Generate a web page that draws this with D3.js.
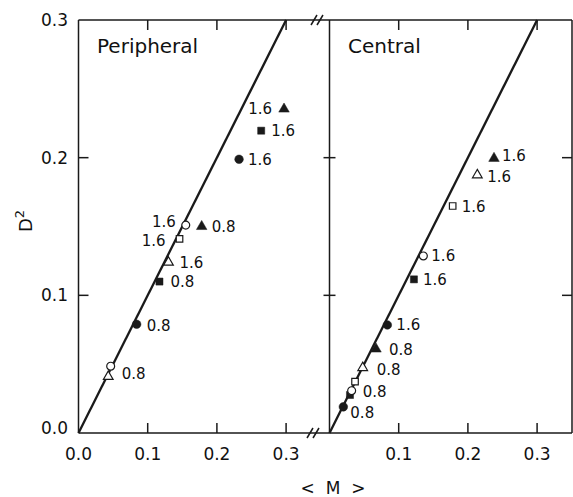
<!DOCTYPE html>
<html>
<head>
<meta charset="utf-8">
<script src="https://cdn.jsdelivr.net/npm/d3@7"></script>
<style>
  body { margin: 0; background: #fff; }
  svg { display: block; }
  text { font-family: "DejaVu Sans", sans-serif; fill: #111; }
</style>
</head>
<body>
<svg width="573" height="497"></svg>
<script>
// peripheral panel
const periphM     = [0.043, 0.0465, 0.084, 0.117, 0.130, 0.146, 0.155, 0.178, 0.297, 0.264, 0.232];
const periphD2    = [0.041, 0.0485, 0.079, 0.110, 0.124, 0.141, 0.151, 0.150, 0.2353, 0.2196, 0.1988];
const periphShape = ['ot', 'oc', 'fc', 'fs', 'ot', 'os', 'oc', 'ft', 'ft', 'fs', 'fc'];
const periphLabel = ['', '0.8', '0.8', '0.8', '1.6', '1.6', '1.6', '0.8', '1.6', '1.6', '1.6'];

// central panel
const centralM     = [0.020, 0.0296, 0.032, 0.0369, 0.048, 0.0672, 0.0836, 0.122, 0.1356, 0.178, 0.2136, 0.2377];
const centralD2    = [0.019, 0.0276, 0.0307, 0.0373, 0.0474, 0.061, 0.0785, 0.1116, 0.1286, 0.1649, 0.1874, 0.1995];
const centralShape = ['fc', 'fs', 'oc', 'os', 'ot', 'ft', 'fc', 'fs', 'oc', 'os', 'ot', 'ft'];
const centralLabel = ['0.8', '', '0.8', '', '0.8', '0.8', '1.6', '1.6', '1.6', '1.6', '1.6', '1.6'];

const xTicks = [0, 0.1, 0.2, 0.3];
const yTicks = [0, 0.1, 0.2, 0.3];
const fitLine = [0, 0.3];   // D^2 = <M>

// label placement (layout only): [dx, dy, anchor]
const periphPos = [[0,0,'start'],[11,7,'start'],[10,1,'start'],[11,0,'start'],[11,0,'start'],
  [-14,2,'end'],[-10,-4,'end'],[10,0,'start'],[-12,0,'end'],[10,0,'start'],[9,0,'start']];
const centralPos = [[7,6,'start'],[0,0,'start'],[11,1,'start'],[0,0,'start'],[14,2,'start'],
  [13,1,'start'],[9,0,'start'],[9,0,'start'],[8,0,'start'],[9,1,'start'],[10,2,'start'],[8,-3,'start']];

const svg = d3.select('svg');
const yTop = 20, yBot = 433, xLeft = 78.5, xMid = 329.5, xRight = 572;

const y = d3.scaleLinear().domain([0, 0.3]).range([yBot, yTop]);
const xL = d3.scaleLinear().domain([0, 0.3]).range([xLeft, xLeft + 207.6]);
const xR = d3.scaleLinear().domain([0, 0.3]).range([xMid, xMid + 207.6]);

const ink = '#1a1a1a';

// frame
const frame = svg.append('g').attr('fill', 'none').attr('stroke', ink).attr('stroke-width', 1.5);
frame.append('line').attr('x1', xLeft).attr('x2', xRight).attr('y1', yTop).attr('y2', yTop);
frame.append('line').attr('x1', xLeft).attr('x2', xRight).attr('y1', yBot).attr('y2', yBot);
frame.append('line').attr('x1', xLeft).attr('x2', xLeft).attr('y1', yTop).attr('y2', yBot);
frame.append('line').attr('x1', xRight).attr('x2', xRight).attr('y1', yTop).attr('y2', yBot);
frame.append('line').attr('x1', xMid).attr('x2', xMid).attr('y1', yTop).attr('y2', yBot);

// break marks
[[313, yBot], [317, yTop]].forEach(([bx, by]) => {
  [-3, 3].forEach(o => {
    frame.append('line')
      .attr('x1', bx + o - 3).attr('y1', by + 5)
      .attr('x2', bx + o + 3).attr('y2', by - 5);
  });
});

const tl = 10;
// x ticks on both panels, bottom (up) and top (down)
[xL, xR].forEach((xs, p) => {
  xTicks.forEach(t => {
    if (t === 0) return;
    frame.append('line').attr('x1', xs(t)).attr('x2', xs(t)).attr('y1', yBot).attr('y2', yBot - tl);
    frame.append('line').attr('x1', xs(t)).attr('x2', xs(t)).attr('y1', yTop).attr('y2', yTop + tl);
  });
  svg.append('g').selectAll('text')
    .data(p === 0 ? xTicks : xTicks.slice(1))
    .join('text')
    .attr('x', d => xs(d))
    .attr('y', 460)
    .attr('text-anchor', 'middle')
    .attr('font-size', 17)
    .text(d => d3.format('.1f')(d));
});

// y ticks: left (in), mid (both sides), right (in)
yTicks.forEach(t => {
  if (t === 0 || t === 0.3) return;
  frame.append('line').attr('x1', xLeft).attr('x2', xLeft + tl).attr('y1', y(t)).attr('y2', y(t));
  frame.append('line').attr('x1', xMid - 6).attr('x2', xMid + 6).attr('y1', y(t)).attr('y2', y(t));
  frame.append('line').attr('x1', xRight).attr('x2', xRight - tl).attr('y1', y(t)).attr('y2', y(t));
});
svg.append('g').selectAll('text')
  .data(yTicks)
  .join('text')
  .attr('x', 68)
  .attr('y', d => y(d) - (d === 0 ? 5 : 0))
  .attr('dy', '0.35em')
  .attr('text-anchor', 'end')
  .attr('font-size', 17)
  .text(d => d3.format('.1f')(d));

// axis titles
const yt = svg.append('text')
  .attr('transform', 'translate(32,221) rotate(-90)')
  .attr('text-anchor', 'middle')
  .attr('font-size', 18);
yt.append('tspan').text('D');
yt.append('tspan').attr('font-size', 13).attr('dy', -8).text('2');

svg.append('text')
  .attr('x', 333).attr('y', 494)
  .attr('text-anchor', 'middle')
  .attr('font-size', 17)
  .attr('xml:space', 'preserve')
  .text('<  M  >');

svg.append('text').attr('x', 97).attr('y', 53).attr('font-size', 20).text('Peripheral');
svg.append('text').attr('x', 348).attr('y', 53).attr('font-size', 20).text('Central');

// markers
const symType = { c: d3.symbolCircle, s: d3.symbolSquare, t: d3.symbolTriangle };
const symSize = { c: 58, s: 50, t: 48 };

function panel(xs, ms, ds, shapes, labels, pos) {
  const g = svg.append('g');
  g.append('line')
    .attr('x1', xs(fitLine[0])).attr('y1', y(fitLine[0]))
    .attr('x2', xs(fitLine[1])).attr('y2', y(fitLine[1]))
    .attr('stroke', ink).attr('stroke-width', 2.3);

  const pts = ms.map((m, i) => ({ m, d: ds[i], shape: shapes[i], label: labels[i], pos: pos[i] }));

  g.selectAll('path.pt')
    .data(pts)
    .join('path')
    .attr('class', 'pt')
    .attr('transform', d => `translate(${xs(d.m)},${y(d.d)})`)
    .attr('d', d => d3.symbol(symType[d.shape[1]], d.shape[0] === 'o' ? symSize[d.shape[1]] * 0.85 : symSize[d.shape[1]])())
    .attr('fill', d => d.shape[0] === 'f' ? ink : '#fff')
    .attr('stroke', ink)
    .attr('stroke-width', d => d.shape[0] === 'f' ? 0.5 : 1.2);

  g.selectAll('text.lbl')
    .data(pts.filter(d => d.label))
    .join('text')
    .attr('class', 'lbl')
    .attr('x', d => xs(d.m) + d.pos[0])
    .attr('y', d => y(d.d) + d.pos[1])
    .attr('dy', '0.36em')
    .attr('text-anchor', d => d.pos[2])
    .attr('font-size', 15)
    .text(d => d.label);
}

panel(xL, periphM, periphD2, periphShape, periphLabel, periphPos);
panel(xR, centralM, centralD2, centralShape, centralLabel, centralPos);
</script>
</body>
</html>
